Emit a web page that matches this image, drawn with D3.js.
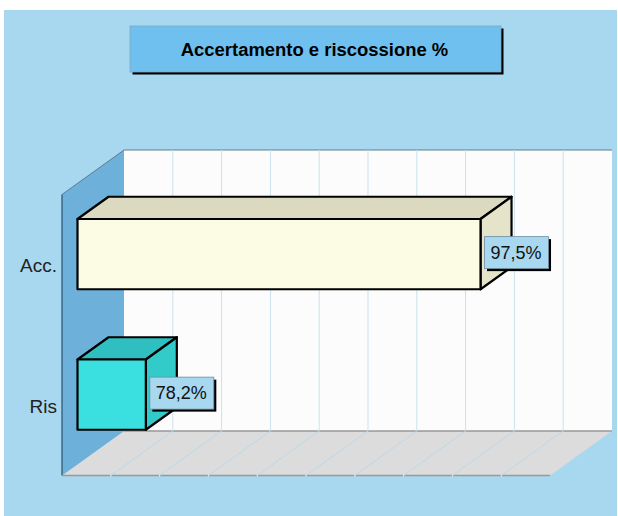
<!DOCTYPE html>
<html><head><meta charset="utf-8">
<script src="https://cdn.jsdelivr.net/npm/d3@7"></script>
<style>html,body{margin:0;padding:0;background:#fff}svg{display:block}text{font-family:"Liberation Sans",Arial,sans-serif}</style>
</head><body><svg id="c" width="618" height="516"></svg>
<script>
const titleText = "Accertamento e riscossione %";
const categories = ["Acc.", "Ris"];
const values = [97.5, 78.2];
const valueLabels = ["97,5%", "78,2%"];
const domainX = [74.26, 102.4];
const gridDivisions = 10;
const faceColors = [
  {front:"#fcfbe3", top:"#dbdac0", side:"#e5e4cb"},
  {front:"#3ae0e0", top:"#2fbfc0", side:"#33caca"}
];

const svg = d3.select("#c");
const dpx = 62, dpy = -44.5;          // chart depth
const left = 62, bottom = 475.5, w = 488, h = 281;
const x = d3.scaleLinear().domain(domainX).range([0, w]);
const grid = d3.scaleLinear().domain([0, gridDivisions]).range([0, w]);
const y = d3.scaleBand().domain(categories).range([0, h]);
const poly = pts => pts.map(p => p.join(",")).join(" ");

svg.append("rect").attr("x",4).attr("y",10).attr("width",613).attr("height",506).attr("fill","#a8d7f0");

// back wall
svg.append("rect").attr("x",left+dpx).attr("y",bottom+dpy-h).attr("width",w).attr("height",h).attr("fill","#fcfcfc");
// floor
svg.append("polygon").attr("points",poly([[left,bottom],[left+w,bottom],[left+w+dpx,bottom+dpy],[left+dpx,bottom+dpy]])).attr("fill","#dcdcdc");
// left wall
svg.append("polygon").attr("points",poly([[left,bottom],[left+dpx,bottom+dpy],[left+dpx,bottom+dpy-h],[left,bottom-h]])).attr("fill","#6db0d9");

// frame lines
svg.append("line").attr("x1",left+dpx).attr("x2",left+dpx+w).attr("y1",bottom+dpy-h).attr("y2",bottom+dpy-h).attr("stroke","#5d7d92").attr("stroke-width",1);
svg.append("polyline").attr("points",poly([[left,bottom-h],[left+dpx,bottom+dpy-h]])).attr("fill","none").attr("stroke","#5d7d92").attr("stroke-width",1);
svg.append("line").attr("x1",left).attr("x2",left).attr("y1",bottom-h).attr("y2",bottom).attr("stroke","#2f5c78").attr("stroke-width",1.3);
svg.append("line").attr("x1",left+dpx).attr("x2",left+w+dpx).attr("y1",bottom+dpy).attr("y2",bottom+dpy).attr("stroke","#999").attr("stroke-width",1.3);
svg.append("line").attr("x1",left).attr("x2",left+w).attr("y1",bottom).attr("y2",bottom).attr("stroke","#999").attr("stroke-width",1.3);

// grid
d3.range(1, gridDivisions).forEach(i => {
  const gx = left + grid(i);
  svg.append("line").attr("x1",gx+dpx).attr("x2",gx+dpx).attr("y1",bottom+dpy-h).attr("y2",bottom+dpy).attr("stroke","#cbe1ee").attr("stroke-width",1);
  svg.append("line").attr("x1",gx).attr("x2",gx+dpx).attr("y1",bottom).attr("y2",bottom+dpy).attr("stroke","#bcd8e8").attr("stroke-width",1);
  svg.append("line").attr("x1",gx).attr("x2",gx).attr("y1",bottom-1).attr("y2",bottom+1).attr("stroke","#f0f0f0").attr("stroke-width",1);
});

// bars
const ox = dpx*0.25, oy = dpy*0.25 + 0.5;
const bx = dpx*0.5, by = dpy*0.5;
categories.forEach((c,i) => {
  const x0 = left + ox, x1 = left + ox + x(values[i]);
  const bh = y.bandwidth()/2;
  const y0 = bottom - h + oy + y(c) + bh/2, y1 = y0 + bh;
  const col = faceColors[i];
  const g = svg.append("g").attr("stroke","#000").attr("stroke-width",2.2).attr("stroke-linejoin","round");
  g.append("polygon").attr("points",poly([[x0,y0],[x1,y0],[x1+bx,y0+by],[x0+bx,y0+by]])).attr("fill",col.top);
  g.append("polygon").attr("points",poly([[x1,y0],[x1+bx,y0+by],[x1+bx,y1+by],[x1,y1]])).attr("fill",col.side);
  g.append("rect").attr("x",x0).attr("y",y0).attr("width",x1-x0).attr("height",bh).attr("fill",col.front);

  // axis label
  svg.append("text").attr("x",left-5).attr("y",bottom-h+y(c)+y.bandwidth()/2+1).attr("dy","0.35em").attr("text-anchor","end").attr("font-size",19).attr("fill","#222").text(c);

  // value label
  const lx = x1+4, ly = (y0+y1)/2 - 1.5, lw = 64, lh = 32;
  svg.append("rect").attr("x",lx+2.5).attr("y",ly-lh/2+2.5).attr("width",lw).attr("height",lh).attr("fill","#000");
  svg.append("rect").attr("x",lx).attr("y",ly-lh/2).attr("width",lw).attr("height",lh).attr("fill","#a8d7f0").attr("stroke","#6f8ea3").attr("stroke-width",0.8);
  svg.append("text").attr("x",lx+lw/2-0.5).attr("y",ly).attr("dy","0.35em").attr("text-anchor","middle").attr("font-size",18).attr("fill","#111").text(valueLabels[i]);
});

// title
svg.append("rect").attr("x",132.5).attr("y",28.5).attr("width",371).attr("height",46).attr("fill","#000");
svg.append("rect").attr("x",130).attr("y",26).attr("width",371).attr("height",46).attr("fill","#6fc0ee").attr("stroke","#7fa9c4").attr("stroke-width",0.8);
svg.append("text").attr("x",314.5).attr("y",56).attr("text-anchor","middle").attr("font-size",18.45).attr("font-weight","bold").attr("fill","#000").text(titleText);
</script></body></html>
